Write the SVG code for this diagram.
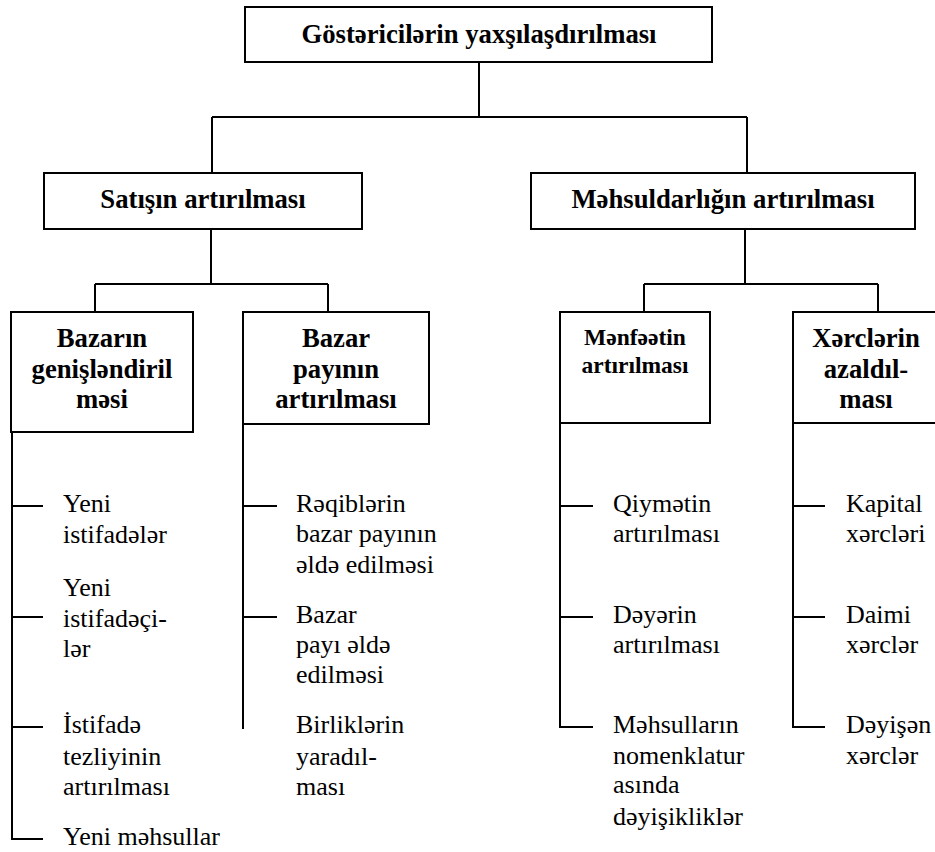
<svg xmlns="http://www.w3.org/2000/svg" width="935" height="852" viewBox="0 0 935 852">
  <style>
    .box { fill: #fff; stroke: #000; stroke-width: 2; }
    .ln { fill: none; stroke: #000; stroke-width: 2; }
    .hd { font-weight: bold; font-size: 26.7px; text-anchor: middle; fill: #000; }
    .hs { font-size: 23.5px; }
    .tx { font-size: 26px; fill: #000; }
  </style>
  <rect width="935" height="852" fill="#fff"/>

  <!-- connectors -->
  <g id="connectors" class="ln">
    <path d="M479 62 V117 M212 117 H747 M212 117 V173 M747 117 V173"/>
    <path d="M211 229 V284 M95 284 H328 M95 284 V312 M328 284 V312"/>
    <path d="M745 229 V284 M644 284 H878 M644 284 V312 M878 284 V312"/>
    <path d="M12 432 V839 H43 M12 506 H43 M12 617 H43 M12 727 H43"/>
    <path d="M243 424 V729 M243 506 H277 M243 617 H277"/>
    <path d="M560 423 V727 H593 M560 506 H593 M560 617 H593"/>
    <path d="M793 423 V727 H825 M793 506 H825 M793 617 H825"/>
  </g>

  <g id="root" font-family="Liberation Serif">
    <rect class="box" x="245" y="7" width="467" height="55"/>
    <text class="hd" x="479" y="43">Göstəricilərin yaxşılaşdırılması</text>
  </g>

  <g id="sales" font-family="Liberation Serif">
    <rect class="box" x="44" y="173" width="318" height="56"/>
    <text class="hd" x="203" y="208">Satışın artırılması</text>
  </g>

  <g id="productivity" font-family="Liberation Serif">
    <rect class="box" x="531" y="173" width="384" height="56"/>
    <text class="hd" x="723" y="208">Məhsuldarlığın artırılması</text>
  </g>

  <g id="market-expansion" font-family="Times New Roman">
    <rect class="box" x="11" y="312" width="182" height="120"/>
    <text class="hd" x="102" y="347">Bazarın</text>
    <text class="hd" x="102" y="378">genişləndiril</text>
    <text class="hd" x="102" y="408">məsi</text>
  </g>

  <g id="market-share" font-family="Tinos">
    <rect class="box" x="243" y="312" width="186" height="112"/>
    <text class="hd" x="336" y="347">Bazar</text>
    <text class="hd" x="336" y="378">payının</text>
    <text class="hd" x="336" y="408">artırılması</text>
  </g>

  <g id="profit" font-family="Liberation Serif">
    <rect class="box" x="560" y="312" width="150" height="111"/>
    <text class="hd hs" x="635" y="345">Mənfəətin</text>
    <text class="hd hs" x="635" y="373">artırılması</text>
  </g>

  <g id="costs" font-family="Liberation Serif">
    <rect class="box" x="793" y="312" width="150" height="111"/>
    <text class="hd" x="866" y="347">Xərclərin</text>
    <text class="hd" x="866" y="378">azaldıl-</text>
    <text class="hd" x="866" y="408">ması</text>
  </g>

  <g id="new-uses" class="tx" font-family="Liberation Serif">
    <text x="63" y="512">Yeni</text>
    <text x="63" y="543">istifadələr</text>
  </g>
  <g id="new-users" class="tx" font-family="Liberation Serif">
    <text x="63" y="596">Yeni</text>
    <text x="63" y="627">istifadəçi-</text>
    <text x="63" y="657">lər</text>
  </g>
  <g id="usage-frequency" class="tx" font-family="serif">
    <text x="63" y="733">İstifadə</text>
    <text x="63" y="765">tezliyinin</text>
    <text x="63" y="795">artırılması</text>
  </g>
  <g id="new-products" class="tx" font-family="Liberation Serif">
    <text x="63" y="845">Yeni məhsullar</text>
  </g>

  <g id="competitor-share" class="tx" font-family="Times New Roman">
    <text x="296" y="512">Rəqiblərin</text>
    <text x="296" y="542">bazar payının</text>
    <text x="296" y="573">əldə edilməsi</text>
  </g>
  <g id="gain-share" class="tx" font-family="Liberation Serif">
    <text x="296" y="623">Bazar</text>
    <text x="296" y="653">payı əldə</text>
    <text x="296" y="683">edilməsi</text>
  </g>
  <g id="alliances" class="tx" font-family="Liberation Serif">
    <text x="296" y="733">Birliklərin</text>
    <text x="296" y="765">yaradıl-</text>
    <text x="296" y="795">ması</text>
  </g>

  <g id="price-increase" class="tx" font-family="Liberation Serif">
    <text x="613" y="512">Qiymətin</text>
    <text x="613" y="542">artırılması</text>
  </g>
  <g id="value-increase" class="tx" font-family="Liberation Serif">
    <text x="613" y="623">Dəyərin</text>
    <text x="613" y="653">artırılması</text>
  </g>
  <g id="range-changes" class="tx" font-family="Liberation Serif">
    <text x="613" y="733">Məhsulların</text>
    <text x="613" y="764">nomenklatur</text>
    <text x="613" y="793">asında</text>
    <text x="613" y="825">dəyişikliklər</text>
  </g>

  <g id="capital-costs" class="tx" font-family="Liberation Serif">
    <text x="846" y="512">Kapital</text>
    <text x="846" y="542">xərcləri</text>
  </g>
  <g id="fixed-costs" class="tx" font-family="Liberation Serif">
    <text x="846" y="623">Daimi</text>
    <text x="846" y="653">xərclər</text>
  </g>
  <g id="variable-costs" class="tx" font-family="Liberation Serif">
    <text x="846" y="733">Dəyişən</text>
    <text x="846" y="764">xərclər</text>
  </g>
</svg>
